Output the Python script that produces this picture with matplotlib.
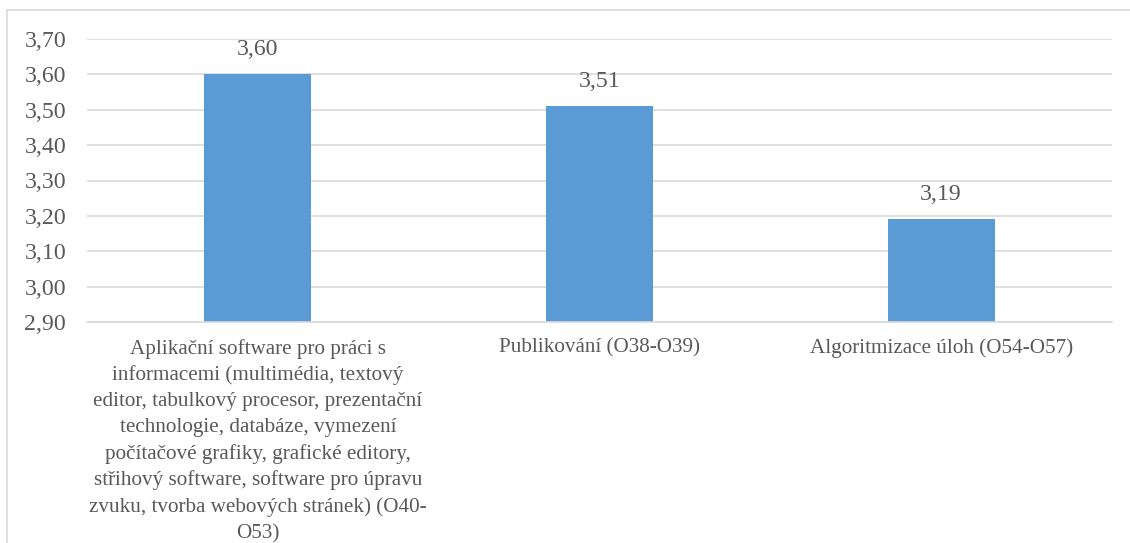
import matplotlib.pyplot as plt
from matplotlib.ticker import FuncFormatter
from matplotlib.lines import Line2D

categories = [
    "Aplikační software pro práci s\ninformacemi (multimédia, textový\neditor, tabulkový procesor, prezentační\ntechnologie, databáze, vymezení\npočítačové grafiky, grafické editory,\nstřihový software, software pro úpravu\nzvuku, tvorba webových stránek) (O40-\nO53)",
    "Publikování (O38-O39)",
    "Algoritmizace úloh (O54-O57)",
]
values = [3.60, 3.51, 3.19]
yticks = [2.9, 3.0, 3.1, 3.2, 3.3, 3.4, 3.5, 3.6, 3.7]

plt.rcParams['font.family'] = ['Liberation Serif', 'DejaVu Serif']
txt = '#595959'
grid = '#d9d9d9'

fig = plt.figure(figsize=(11.3, 5.43), dpi=100)
ax = fig.add_axes([87/1130, 1 - 322/543, 1025/1130, 283/543])

x = range(len(categories))
bars = ax.bar(x, values, width=0.313, color='#5b9bd5', zorder=2)

ax.set_xlim(-0.5, 2.5)
ax.set_ylim(2.9, 3.7)
ax.set_yticks(yticks)
ax.yaxis.set_major_formatter(FuncFormatter(lambda v, p: f"{v:.2f}".replace('.', ',')))
ax.set_xticks(list(x))
ax.set_xticklabels(categories, fontsize=15.2, color=txt, linespacing=1.47, va='top')
ax.tick_params(axis='y', labelsize=17.2, labelcolor=txt, length=0, pad=15)
ax.tick_params(axis='x', length=0, pad=12)
ax.grid(axis='y', color=grid, linewidth=1.2, zorder=0)
for s in ['top', 'right', 'left']:
    ax.spines[s].set_visible(False)
ax.spines['bottom'].set_color(grid)
ax.spines['bottom'].set_linewidth(1.2)

for b, v in zip(bars, values):
    ax.annotate(f"{v:.2f}".replace('.', ','), (b.get_x() + b.get_width() / 2, v),
                xytext=(0, 18), textcoords='offset points', ha='center', va='center',
                fontsize=17.2, color=txt)

# outer chart frame
fy = 1 - 10/543
fx = 7/1130
fig.add_artist(Line2D([fx, 1], [fy, fy], color=grid, linewidth=1.2))
fig.add_artist(Line2D([fx, fx], [0, fy], color=grid, linewidth=1.2))

fig.savefig('out.png', dpi=100)
